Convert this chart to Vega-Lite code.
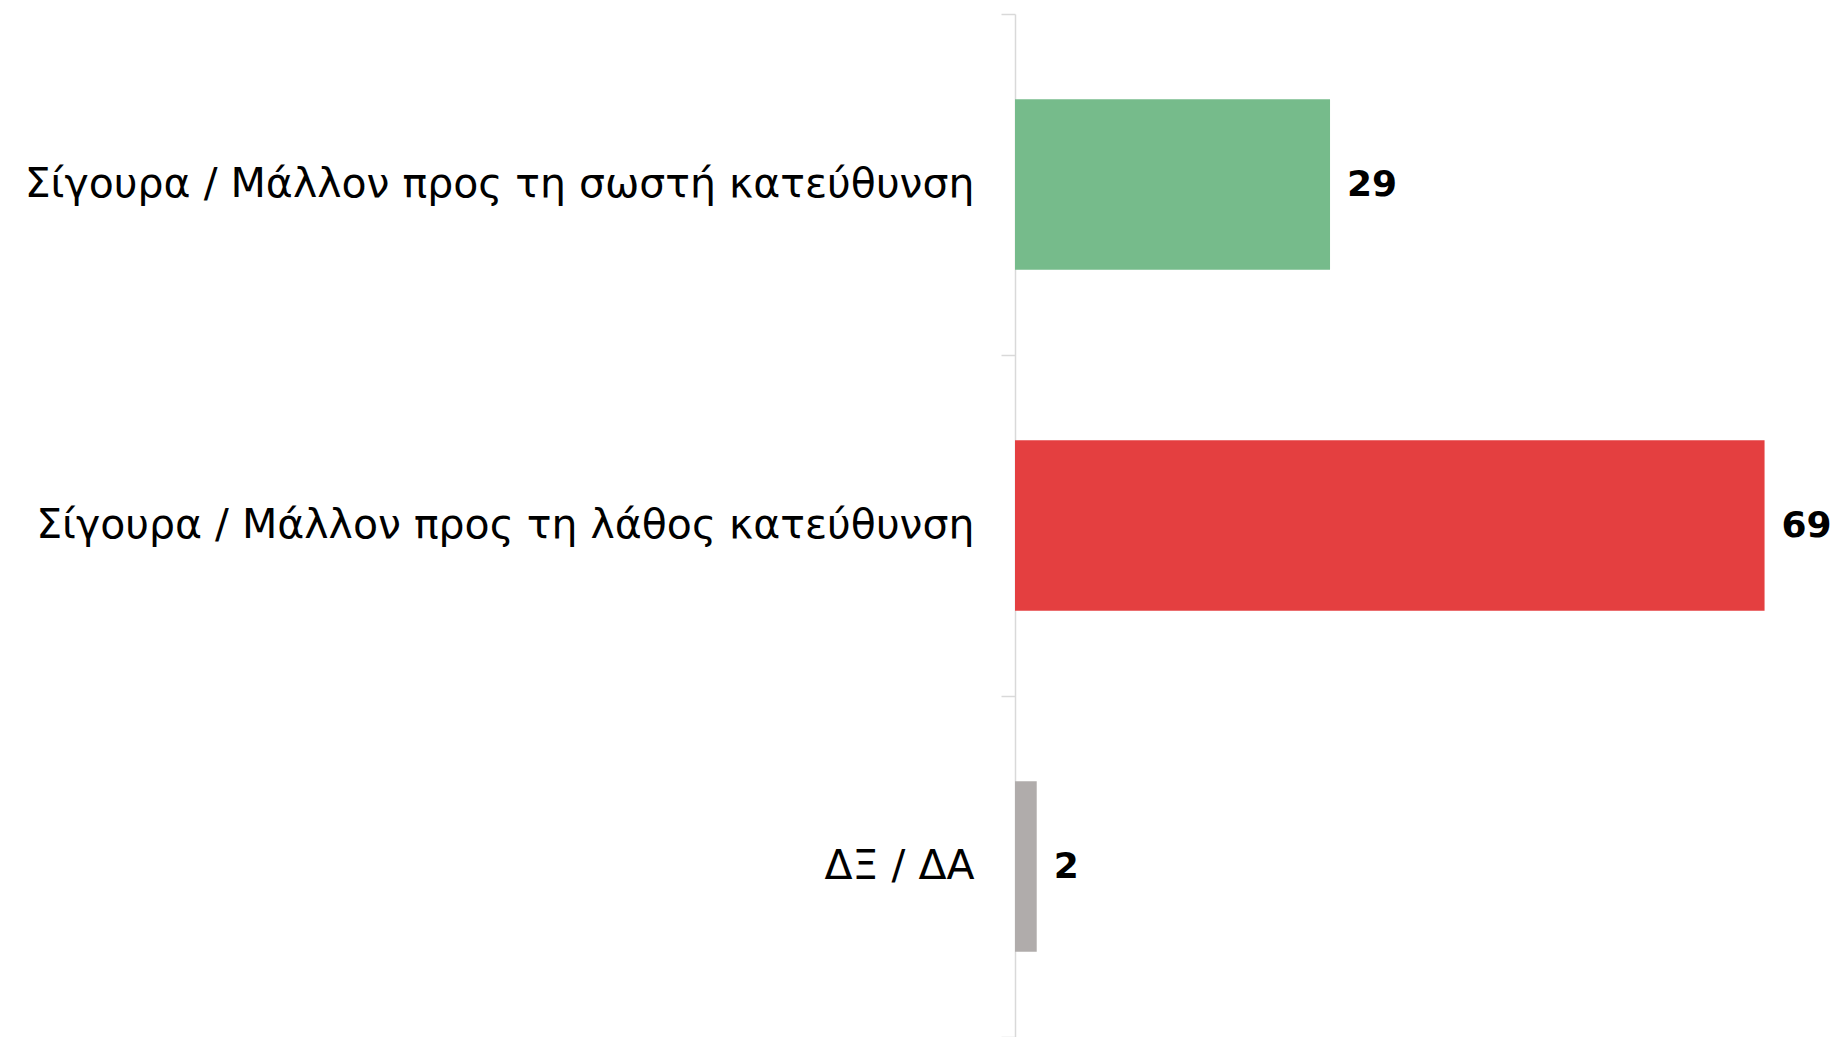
{
  "$schema": "https://vega.github.io/schema/vega-lite/v6.json",
  "autosize": {"type": "none"},
  "padding": {"left": 1015, "top": 14, "right": 0, "bottom": 0},
  "width": 818,
  "height": 1023,
  "background": "white",
  "config": {"view": {"stroke": null}},
  "data": {
    "values": [
      {"category": "Σίγουρα / Μάλλον προς τη σωστή κατεύθυνση", "value": 29, "color": "#76bb8b"},
      {"category": "Σίγουρα / Μάλλον προς τη λάθος κατεύθυνση", "value": 69, "color": "#e43f40"},
      {"category": "ΔΞ / ΔΑ", "value": 2, "color": "#b0acab"}
    ]
  },
  "encoding": {
    "y": {
      "field": "category",
      "type": "nominal",
      "sort": null,
      "scale": {"paddingInner": 0, "paddingOuter": 0},
      "axis": {
        "title": null,
        "domainColor": "#d9d9d9",
        "domainWidth": 1.5,
        "tickColor": "#d9d9d9",
        "tickWidth": 1.5,
        "tickSize": 14,
        "tickBand": "extent",
        "labelPadding": 27,
        "labelFont": "DejaVu Sans",
        "labelFontSize": 41,
        "labelColor": "#000000",
        "labelLimit": 1100
      }
    },
    "x": {
      "field": "value",
      "type": "quantitative",
      "scale": {"domain": [0, 75.3]},
      "axis": null
    }
  },
  "layer": [
    {
      "mark": {"type": "bar", "height": {"band": 0.5}},
      "encoding": {"color": {"field": "color", "type": "nominal", "scale": null}}
    },
    {
      "mark": {"type": "text", "align": "left", "baseline": "middle", "dx": 17, "font": "DejaVu Sans", "fontWeight": "bold", "fontSize": 36, "color": "#000000"},
      "encoding": {"text": {"field": "value", "type": "quantitative"}}
    }
  ]
}
